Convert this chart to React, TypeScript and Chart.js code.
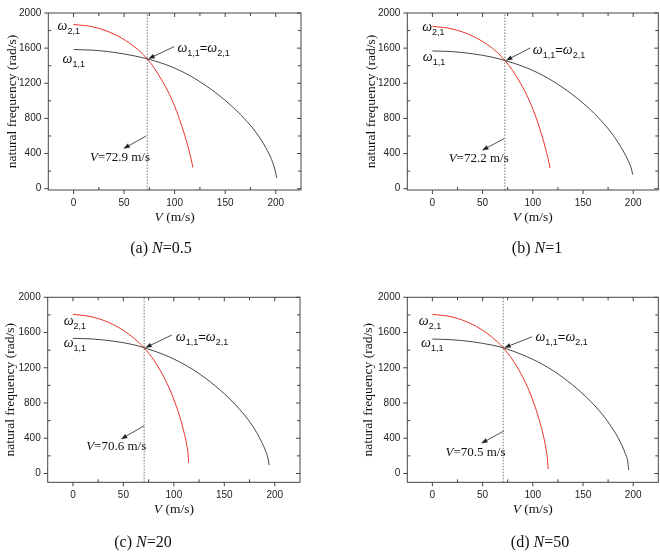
import React, { useEffect, useRef } from "react";
import { Chart, registerables } from "chart.js";
Chart.register(...registerables);

// ---------- data ----------
const X_TICKS = [0, 50, 100, 150, 200];
const X_MINOR = [25, 75, 125, 175];
const Y_TICKS = [0, 400, 800, 1200, 1600, 2000];
const Y_MINOR = [200, 600, 1000, 1400, 1800];

// (a) N=0.5
const V_BLACK_A = [0, 20, 40, 60, 72.9, 90, 110, 130, 150, 165, 180, 190, 196, 199, 201];
const W_BLACK_A = [1584, 1576, 1552, 1512, 1478, 1418, 1318, 1180, 1005, 845, 648, 470, 330, 225, 125];
const V_RED_A = [0, 20, 40, 55, 65, 72.9, 80, 88, 95, 102, 108, 112, 115, 117, 118];
const W_RED_A = [1870, 1840, 1760, 1660, 1570, 1478, 1370, 1220, 1070, 880, 680, 530, 400, 300, 240];

// (b) N=1
const V_BLACK_B = [0, 20, 40, 60, 72.2, 90, 110, 130, 150, 165, 180, 190, 195, 198, 199.5];
const W_BLACK_B = [1568, 1560, 1536, 1496, 1459, 1393, 1290, 1150, 975, 812, 610, 430, 320, 235, 160];
const V_RED_B = [0, 20, 40, 55, 65, 72.2, 80, 88, 95, 102, 107, 111, 114, 116, 117.2];
const W_RED_B = [1849, 1818, 1738, 1638, 1548, 1459, 1345, 1195, 1040, 850, 680, 530, 400, 300, 235];

// (c) N=20
const V_BLACK_C = [0, 20, 40, 60, 70.6, 90, 110, 130, 150, 165, 178, 186, 191, 193, 194.5];
const W_BLACK_C = [1534, 1526, 1502, 1462, 1427, 1350, 1240, 1093, 905, 730, 540, 380, 255, 185, 95];
const V_RED_C = [0, 20, 40, 55, 65, 70.6, 80, 88, 95, 101, 106, 110, 112.5, 114, 114.8];
const W_RED_C = [1807, 1775, 1690, 1585, 1490, 1427, 1290, 1140, 980, 810, 640, 470, 340, 230, 120];

// (d) N=50
const V_BLACK_D = [0, 20, 40, 60, 70.5, 90, 110, 130, 150, 165, 178, 187, 192, 194.5, 195.5];
const W_BLACK_D = [1526, 1518, 1495, 1456, 1427, 1346, 1237, 1090, 902, 728, 535, 360, 230, 140, 40];
const V_RED_D = [0, 20, 40, 55, 65, 70.5, 80, 88, 95, 101, 106, 110, 113, 114.5, 115.3];
const W_RED_D = [1807, 1776, 1692, 1586, 1492, 1427, 1288, 1136, 975, 800, 625, 455, 290, 170, 50];

const V_CROSS = [72.9, 72.2, 70.6, 70.5];
const W_CROSS = [1478, 1459, 1427, 1427];
const N_VALUES = ["0.5", "1", "20", "50"];
const LETTERS = ["a", "b", "c", "d"];

// ---------- layout / styles ----------
const CW = 330;
const CH = 277;
const SERIF = '"Liberation Serif", "Times New Roman", serif';
const SANS = '"Liberation Sans", Arial, sans-serif';

type Pt = [number, number];
type PanelCfg = {
  left: number; top: number;
  area: { l: number; r: number; t: number; b: number };
  yMin: number;
  vb: number[]; wb: number[]; vr: number[]; wr: number[];
  idx: number;
  capX: number; capY: number; yTitleX: number;
  w21: Pt; w11: Pt; eq: Pt; a1: Pt; vl: Pt; a2from: Pt; a2to: Pt;
};

const PANELS: PanelCfg[] = [
  {
    left: 0, top: 0, area: { l: 48.3, r: 301, t: 3.5, b: 190 }, yMin: -15,
    vb: V_BLACK_A, wb: W_BLACK_A, vr: V_RED_A, wr: W_RED_A, idx: 0,
    capX: 161, capY: 253, yTitleX: 12,
    w21: [-15.8, 1805], w11: [-10.9, 1429], eq: [102.7, 1556], a1: [99.6, 1618],
    vl: [16.2, 317], a2from: [71.6, 599], a2to: [49.2, 454],
  },
  {
    left: 330, top: 0, area: { l: 77.3, r: 328.3, t: 3.5, b: 190 }, yMin: -15,
    vb: V_BLACK_B, wb: W_BLACK_B, vr: V_RED_B, wr: W_RED_B, idx: 1,
    capX: 207, capY: 253, yTitleX: 41.5,
    w21: [-10.2, 1794], w11: [-9.5, 1450], eq: [100, 1537], a1: [97.4, 1602],
    vl: [16.2, 302], a2from: [71.5, 570], a2to: [49.4, 436],
  },
  {
    left: 0, top: 277, area: { l: 47.7, r: 300, t: 20.3, b: 205.3 }, yMin: -100,
    vb: V_BLACK_C, wb: W_BLACK_C, vr: V_RED_C, wr: W_RED_C, idx: 2,
    capX: 143, capY: 270, yTitleX: 10.5,
    w21: [-9.2, 1685], w11: [-9.2, 1439], eq: [102, 1507], a1: [98, 1572],
    vl: [13.1, 265], a2from: [70.5, 541], a2to: [47.5, 390],
  },
  {
    left: 330, top: 277, area: { l: 77.3, r: 328.3, t: 20.3, b: 205.3 }, yMin: -100,
    vb: V_BLACK_D, wb: W_BLACK_D, vr: V_RED_D, wr: W_RED_D, idx: 3,
    capX: 210, capY: 270, yTitleX: 38.5,
    w21: [-13.6, 1685], w11: [-11.3, 1439], eq: [102.6, 1507], a1: [99.3, 1552],
    vl: [13, 197], a2from: [71, 481], a2to: [48.5, 341],
  },
];

type Seg = { t: string; font: string; dy?: number };

function drawRich(ctx: CanvasRenderingContext2D, segs: Seg[], x: number, y: number, align: "left" | "center") {
  ctx.textBaseline = "alphabetic";
  ctx.textAlign = "left";
  let total = 0;
  for (const s of segs) { ctx.font = s.font; total += ctx.measureText(s.t).width; }
  let cx = align === "center" ? x - total / 2 : x;
  for (const s of segs) {
    ctx.font = s.font;
    ctx.fillText(s.t, cx, y + (s.dy || 0));
    cx += ctx.measureText(s.t).width;
  }
}

function arrow(ctx: CanvasRenderingContext2D, x1: number, y1: number, x2: number, y2: number) {
  ctx.save();
  ctx.strokeStyle = "#222";
  ctx.fillStyle = "#222";
  ctx.lineWidth = 0.8;
  const ang = Math.atan2(y2 - y1, x2 - x1);
  const len = 6.5, hw = 2.3;
  const bx = x2 - Math.cos(ang) * len, by = y2 - Math.sin(ang) * len;
  ctx.beginPath(); ctx.moveTo(x1, y1); ctx.lineTo(bx, by); ctx.stroke();
  ctx.beginPath();
  ctx.moveTo(x2, y2);
  ctx.lineTo(bx + Math.sin(ang) * hw, by - Math.cos(ang) * hw);
  ctx.lineTo(bx - Math.sin(ang) * hw, by + Math.cos(ang) * hw);
  ctx.closePath(); ctx.fill();
  ctx.restore();
}

const OMEGA = `italic 14px ${SERIF}`;
const SUB = `9px ${SANS}`;

function makeDecor(p: PanelCfg) {
  return {
    id: "decor" + p.idx,
    afterDraw(chart: any) {
      const ctx: CanvasRenderingContext2D = chart.ctx;
      const { left: l, right: r, top: t, bottom: b } = chart.chartArea;
      const xs = chart.scales.x, ys = chart.scales.y;
      const X = (v: number) => xs.getPixelForValue(v);
      const Y = (v: number) => ys.getPixelForValue(v);
      ctx.save();
      // frame
      ctx.strokeStyle = "#444";
      ctx.lineWidth = 1;
      ctx.strokeRect(l, t, r - l, b - t);
      ctx.beginPath();
      for (const v of X_TICKS) {
        const px = X(v);
        ctx.moveTo(px, b); ctx.lineTo(px, b + 4);
        ctx.moveTo(px, t); ctx.lineTo(px, t + 4);
      }
      for (const v of X_MINOR) {
        const px = X(v);
        ctx.moveTo(px, b); ctx.lineTo(px, b - 3);
        ctx.moveTo(px, t); ctx.lineTo(px, t + 3);
      }
      for (const v of Y_TICKS) {
        const py = Y(v);
        ctx.moveTo(l - 4, py); ctx.lineTo(l, py);
        ctx.moveTo(r, py); ctx.lineTo(r - 4, py);
      }
      for (const v of Y_MINOR) {
        const py = Y(v);
        ctx.moveTo(l, py); ctx.lineTo(l + 3, py);
        ctx.moveTo(r, py); ctx.lineTo(r - 3, py);
      }
      ctx.stroke();

      ctx.fillStyle = "#111";
      // y title
      ctx.save();
      ctx.translate(p.yTitleX, (t + b) / 2);
      ctx.rotate(-Math.PI / 2);
      ctx.font = `13.5px ${SERIF}`;
      ctx.textAlign = "center";
      ctx.textBaseline = "middle";
      ctx.fillText("natural frequency (rad/s)", 0, 0);
      ctx.restore();

      // x title
      drawRich(ctx, [
        { t: "V", font: `italic 13.5px ${SERIF}` },
        { t: " (m/s)", font: `13.5px ${SERIF}` },
      ], (l + r) / 2, b + 31, "center");

      // caption
      drawRich(ctx, [
        { t: `(${LETTERS[p.idx]}) `, font: `16px ${SERIF}` },
        { t: "N", font: `italic 16px ${SERIF}` },
        { t: "=" + N_VALUES[p.idx], font: `16px ${SERIF}` },
      ], p.capX, p.capY, "center");

      // annotations
      drawRich(ctx, [{ t: "ω", font: OMEGA }, { t: "2,1", font: SUB, dy: 4 }], X(p.w21[0]), Y(p.w21[1]), "left");
      drawRich(ctx, [{ t: "ω", font: OMEGA }, { t: "1,1", font: SUB, dy: 4 }], X(p.w11[0]), Y(p.w11[1]), "left");
      drawRich(ctx, [
        { t: "ω", font: OMEGA }, { t: "1,1", font: SUB, dy: 4 },
        { t: "=", font: `13px ${SANS}` },
        { t: "ω", font: OMEGA }, { t: "2,1", font: SUB, dy: 4 },
      ], X(p.eq[0]), Y(p.eq[1]), "left");
      drawRich(ctx, [
        { t: "V", font: `italic 13px ${SERIF}` },
        { t: "=" + V_CROSS[p.idx] + " m/s", font: `13px ${SERIF}` },
      ], X(p.vl[0]), Y(p.vl[1]), "left");
      arrow(ctx, X(p.a1[0]), Y(p.a1[1]), X(V_CROSS[p.idx]) + 1, Y(W_CROSS[p.idx]));
      arrow(ctx, X(p.a2from[0]), Y(p.a2from[1]), X(p.a2to[0]), Y(p.a2to[1]));
      ctx.restore();
    },
  };
}

function Panel({ p }: { p: PanelCfg }) {
  const ref = useRef<HTMLCanvasElement>(null);
  useEffect(() => {
    if (!ref.current) return;
    const a = p.area;
    const tickFont = { family: SANS, size: 10 };
    const chart = new Chart(ref.current, {
      type: "line",
      data: {
        datasets: [
          {
            data: p.vb.map((v, i) => ({ x: v, y: p.wb[i] })),
            borderColor: "#333", borderWidth: 0.9, pointRadius: 0,
            cubicInterpolationMode: "monotone", fill: false,
          },
          {
            data: p.vr.map((v, i) => ({ x: v, y: p.wr[i] })),
            borderColor: "#e8312b", borderWidth: 1, pointRadius: 0,
            cubicInterpolationMode: "monotone", fill: false,
          },
          {
            data: [{ x: V_CROSS[p.idx], y: p.yMin }, { x: V_CROSS[p.idx], y: 2000 }],
            borderColor: "#666", borderWidth: 0.9, borderDash: [1.5, 1.5], pointRadius: 0, fill: false,
          },
        ],
      } as any,
      options: {
        animation: false,
        responsive: false,
        devicePixelRatio: 1,
        layout: { padding: { left: 0, right: CW - a.r, top: a.t, bottom: 0 } },
        plugins: { legend: { display: false }, tooltip: { enabled: false } },
        scales: {
          x: {
            type: "linear", min: -25, max: 225,
            afterBuildTicks: (s: any) => { s.ticks = X_TICKS.map((v) => ({ value: v })); },
            afterFit: (s: any) => { s.height = CH - a.b; },
            grid: { display: false, drawTicks: false },
            border: { display: false },
            ticks: { padding: 7, font: tickFont, color: "#222", autoSkip: false, maxRotation: 0, callback: (v: any) => String(v) },
          },
          y: {
            type: "linear", min: p.yMin, max: 2000,
            afterBuildTicks: (s: any) => { s.ticks = Y_TICKS.map((v) => ({ value: v })); },
            afterFit: (s: any) => { s.width = a.l; },
            grid: { display: false, drawTicks: false },
            border: { display: false },
            ticks: { padding: 7, font: tickFont, color: "#222", autoSkip: false, callback: (v: any) => String(v) },
          },
        },
      } as any,
      plugins: [makeDecor(p)],
    });
    return () => chart.destroy();
  }, [p]);
  return (
    <canvas
      ref={ref}
      width={CW}
      height={CH}
      style={{ position: "absolute", left: p.left, top: p.top, width: CW, height: CH }}
    />
  );
}

export default function App() {
  return (
    <div style={{ position: "absolute", left: 0, top: 0, width: 660, height: 554, background: "#fff", overflow: "hidden" }}>
      {PANELS.map((p) => <Panel key={p.idx} p={p} />)}
    </div>
  );
}
